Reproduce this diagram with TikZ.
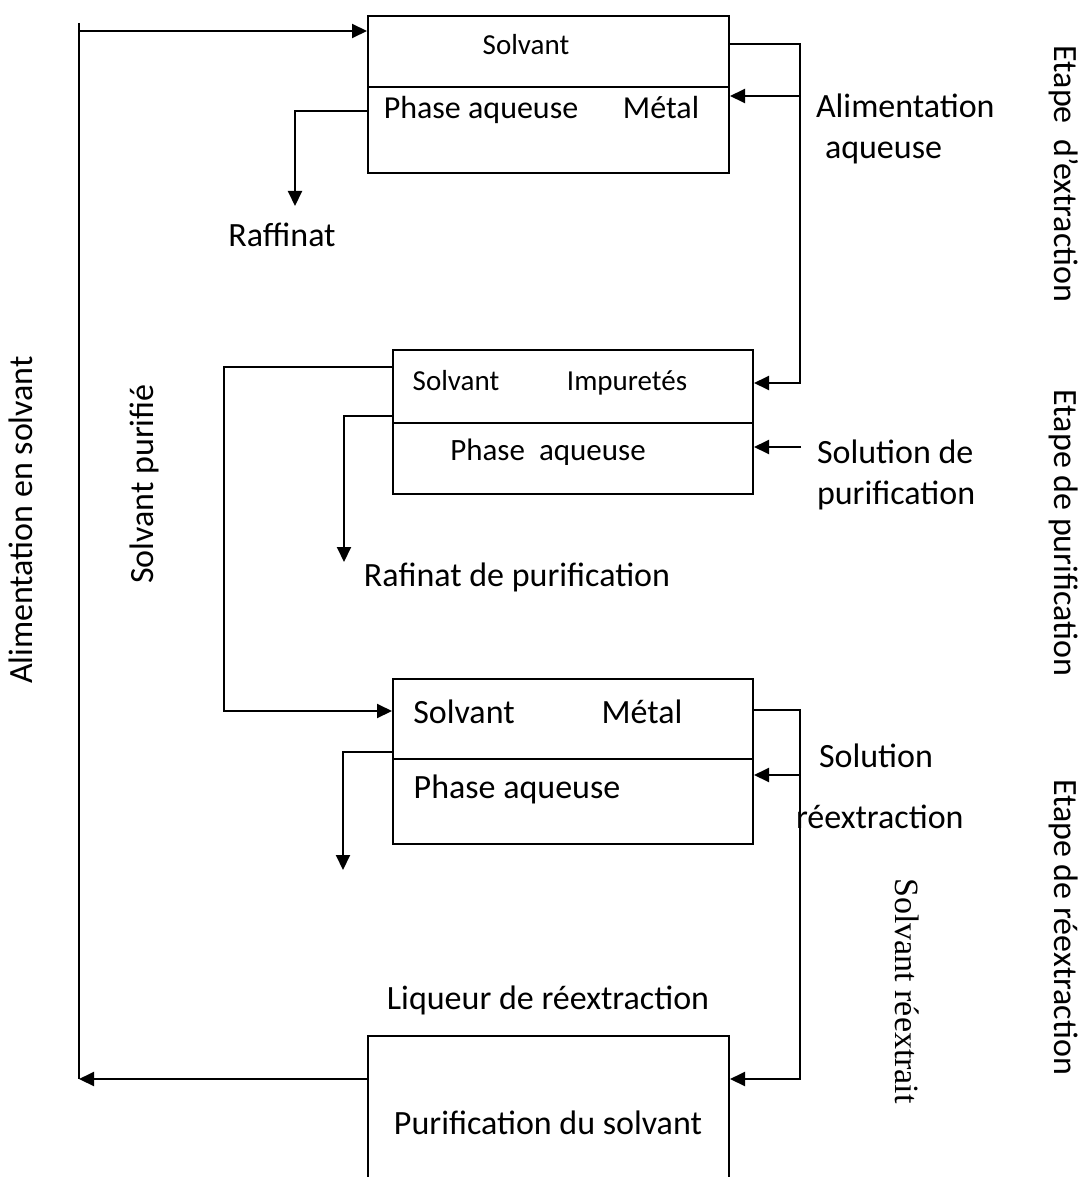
\documentclass[tikz,border=0pt]{standalone}
\usepackage{fontspec}
\setmainfont{Carlito}
\newfontfamily\timesfont{Liberation Serif}
\usetikzlibrary{arrows.meta,calc}

\tikzset{
	stage/.style={draw, rectangle, anchor=north west, inner sep=0pt},
	lbl/.style={inner sep=0pt, text height=24pt, text depth=8pt, font=\fontsize{34}{40}\selectfont},
	sml/.style={inner sep=0pt, text height=20pt, text depth=7pt, font=\fontsize{29}{34}\selectfont},
	flow/.style={-{Triangle[length=15pt,width=14pt]}}
}

\begin{document}
\begin{tikzpicture}[x=1pt, y=-1pt, line width=2pt]
			\pgfmathsetmacro{\xl}{79}
			\pgfmathsetmacro{\xr}{800}
			\useasboundingbox (0,0) rectangle (1087,1177);
			\fill[white] (0,0) rectangle (1087,1177);
			\clip (0,0) rectangle (1087,1177);
			% the four stages
			\node[stage, minimum width=361pt, minimum height=157pt] (ext) at (367,15) {};
			\node[stage, minimum width=360pt, minimum height=144pt] (pur) at (392,349) {};
			\node[stage, minimum width=360pt, minimum height=165pt] (rex) at (392,678) {};
			\node[stage, minimum width=361pt, minimum height=200pt] (sol) at (367,1035) {};
			\draw ($(ext.north west)+(0,72)$) -- ($(ext.north east)+(0,72)$);
			\draw ($(pur.north west)+(0,74)$) -- ($(pur.north east)+(0,74)$);
			\draw ($(rex.north west)+(0,81)$) -- ($(rex.north east)+(0,81)$);
			% texts in the stages
			\node[sml] (extsol) at (526,48) {Solvant};
			\node[lbl, font=\fontsize{32}{38}\selectfont] (extaq) at (481,111) {Phase aqueuse};
			\node[lbl, font=\fontsize{32}{38}\selectfont] (extmet) at (661,111) {Métal};
			\node[sml] (pursol) at (456,384) {Solvant};
			\node[sml] (purimp) at (627,384) {Impuretés};
			\node[lbl, font=\fontsize{31}{37}\selectfont] (puraq) at (548,452) {Phase\ \ aqueuse};
			\node[lbl] (rexsol) at (464,715) {Solvant};
			\node[lbl] (rexmet) at (642,715) {Métal};
			\node[lbl] (rexaq) at (517,790) {Phase aqueuse};
			\node[lbl] (soltxt) at (548,1126) {Purification du solvant};
			% labels
			\node[lbl] (raff) at (282,238) {Raffinat};
			\node[lbl] (raffpur) at (517,578) {Rafinat de purification};
			\node[lbl] (liq) at (548,1001) {Liqueur de réextraction};
			\node[lbl, anchor=west] (alim1) at (815,110) {Alimentation};
			\node[lbl, anchor=west] (alim2) at (824,151) {aqueuse};
			\node[lbl, anchor=west] (spur1) at (816,455) {Solution de};
			\node[lbl, anchor=west] (spur2) at (816,496) {purification};
			\node[lbl, anchor=west] (srex1) at (818,759) {Solution};
			\node[lbl, anchor=west] (srex2) at (795,820) {réextraction};
			\node[lbl, rotate=90] (alimsol) at (24,520) {Alimentation en solvant};
			\node[lbl, rotate=90] (solpur) at (145,484) {Solvant purifié};
			\node[lbl, rotate=-90] (etext) at (1062,174) {Etape\ \ d’extraction};
			\node[lbl, rotate=-90] (etpur) at (1062,533) {Etape de purification};
			\node[lbl, rotate=-90] (etrex) at (1062,927) {Etape de réextraction};
			\node[lbl, rotate=-90, font=\timesfont\fontsize{34}{40}\selectfont] (solrex) at (903,991) {Solvant réextrait};
			% solvent feed loop
			\coordinate (feedtop) at (\xl,23);
			\coordinate (feedin) at (\xl,31);
			\coordinate (feedbot) at (\xl,1079);
			\draw (feedtop) -- (feedbot);
			\draw[flow] (feedin) -- (ext.west |- feedin);
			\draw[flow] ($(sol.north west)+(0,44)$) -- (feedbot);
			% extraction
			\coordinate (r1) at (\xr,44);
			\coordinate (aqin) at (\xr,96);
			\coordinate (raffend) at (295,206);
			\draw[flow] ($(ext.north east)+(0,29)$) -- (r1) |- ($(pur.north east)+(0,34)$);
			\draw[flow] (aqin) -- (ext.east |- aqin);
			\draw[flow] ($(ext.north west)+(0,96)$) -| (raffend);
			% purification
			\coordinate (loop) at (224,711);
			\coordinate (purin) at (801,447);
			\coordinate (purend) at (344,562);
			\draw[flow] ($(pur.north west)+(0,18)$) -| (loop) -- (rex.west |- loop);
			\draw[flow] (purin) -- (pur.east |- purin);
			\draw[flow] ($(pur.north west)+(0,67)$) -| (purend);
			% stripping
			\coordinate (r3) at (\xr,710);
			\coordinate (rexin) at (\xr,775);
			\coordinate (rexend) at (343,870);
			\draw[flow] ($(rex.north east)+(0,32)$) -- (r3) |- ($(sol.north east)+(0,44)$);
			\draw[flow] (rexin) -- (rex.east |- rexin);
			\draw[flow] ($(rex.north west)+(0,74)$) -| (rexend);
		\end{tikzpicture}
\end{document}
